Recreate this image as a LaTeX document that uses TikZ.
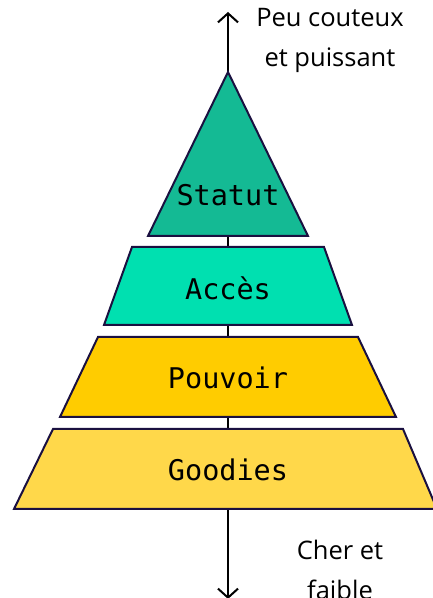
\documentclass[tikz,border=0pt]{standalone}
\usepackage{fontspec}
\setmainfont{Open Sans}
\setmonofont{DejaVu Sans Mono}
\usetikzlibrary{arrows.meta}
\definecolor{cStatut}{HTML}{14BA94}
\definecolor{cAcces}{HTML}{00E0B0}
\definecolor{cPouvoir}{HTML}{FFCC00}
\definecolor{cGoodies}{HTML}{FFD84A}
\definecolor{cEdge}{HTML}{1A1040}
\begin{document}
\begin{tikzpicture}[x=1pt,y=1pt,
  layer/.style={draw=cEdge,line width=2pt,line join=miter},
  axis/.style={line width=2pt,-{Straight Barb[length=9pt,width=20pt,line width=2pt]}},
  lbl/.style={font=\ttfamily\fontsize{28.5}{30}\selectfont,text=black,inner sep=0},
  side/.style={font=\fontsize{25.5}{40}\selectfont,align=center,inner sep=0,text=black}]
\useasboundingbox (0,0) rectangle (433,598);
\clip (0,0) rectangle (433,598);
\coordinate (top) at (228,586);
\coordinate (mid) at (228,300);
\coordinate (bot) at (228,-1);
\draw[axis] (mid) -- (top);
\draw[axis] (mid) -- (bot);
\filldraw[layer,fill=cStatut] (228,526) -- (308,362) -- (148,362) -- cycle;
\filldraw[layer,fill=cAcces] (132,351) -- (324,351) -- (352,273) -- (104,273) -- cycle;
\filldraw[layer,fill=cPouvoir] (98,261) -- (358,261) -- (396,181) -- (60,181) -- cycle;
\filldraw[layer,fill=cGoodies] (53,169) -- (403,169) -- (437,89) -- (14,89) -- cycle;
\node[lbl] (statut) at (228,403) {Statut};
\node[lbl] (acces) at (228,310) {Accès};
\node[lbl] (pouvoir) at (228,220) {Pouvoir};
\node[lbl] (goodies) at (228,128) {Goodies};
\node[side] (haut) at (330,558) {Peu couteux\\et puissant};
\node[side] (bas) at (340,28) {Cher et\\faible};
\end{tikzpicture}
\end{document}
